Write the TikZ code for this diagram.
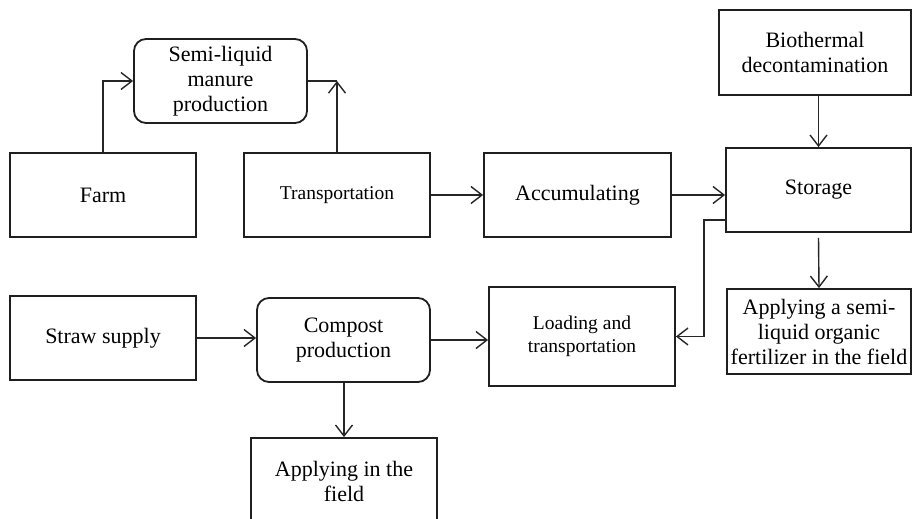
\documentclass[tikz,border=0pt]{standalone}
\usepackage{fontspec}
\setmainfont{Liberation Serif}
\usetikzlibrary{arrows.meta}
\tikzset{
  box/.style={draw=black!88, line width=1.8pt, minimum width=186pt, minimum height=84pt,
    inner sep=0pt, align=center, font=\fontsize{22}{25}\selectfont},
  rbox/.style={box, rounded corners=12pt, minimum width=173pt},
  small/.style={font=\fontsize{19.5}{23}\selectfont},
  conn/.style={draw=black!85, line width=1.4pt},
  arr/.style={conn, -{Straight Barb[length=11pt,width=17pt,line width=1.4pt]}}
}
\begin{document}
\begin{tikzpicture}[x=1pt,y=-1pt]
\useasboundingbox (0,0) rectangle (913,519);
\node[rbox] (semi) at (220.5,81) {Semi-liquid\\manure\\production};
\node[box] (farm) at (103,195) {Farm};
\node[box, small] (trans) at (337,195) {Transportation};
\node[box, minimum width=187pt] (accum) at (577.5,195) {Accumulating};
\node[box, minimum width=185pt] (storage) at (818.5,190) {Storage};
\node[box, minimum width=192pt, minimum height=85pt] (bio) at (815,52.5) {Biothermal\\decontamination};
\node[box, minimum width=184pt, minimum height=85pt] (applysemi) at (819,331.5) {Applying a semi-\\liquid organic\\fertilizer in the field};
\node[box] (straw) at (103,338) {Straw supply};
\node[rbox] (compost) at (343.5,340) {Compost\\production};
\node[box, small, minimum height=99pt] (loading) at (582,336.5) {Loading and\\transportation};
\node[box, minimum height=86pt] (applyfield) at (344,481) {Applying in the\\field};

\draw[arr] (farm.north) |- (semi.west);
\coordinate (c1) at (trans.north |- semi.east);
\draw[conn] (semi.east) -- (c1);
\draw[arr] (trans.north) -- (c1);
\draw[arr] (trans.east) -- (accum.west);
\draw[arr] (accum.east) -- (accum.east -| storage.west);
\draw[arr] (storage.north |- bio.south) -- (storage.north);
\draw[arr] ([yshift=-5pt]storage.south) -- (applysemi.north);
\coordinate (c2) at ([yshift=-30pt,xshift=2pt]storage.west);
\draw[arr] (c2) -- ++(-23,0) |- (loading.east);
\draw[arr] (straw.east) -- (straw.east -| compost.west);
\draw[arr] (compost.east) -- (compost.east -| loading.west);
\draw[arr] (applyfield.north |- compost.south) -- (applyfield.north);
\end{tikzpicture}
\end{document}
